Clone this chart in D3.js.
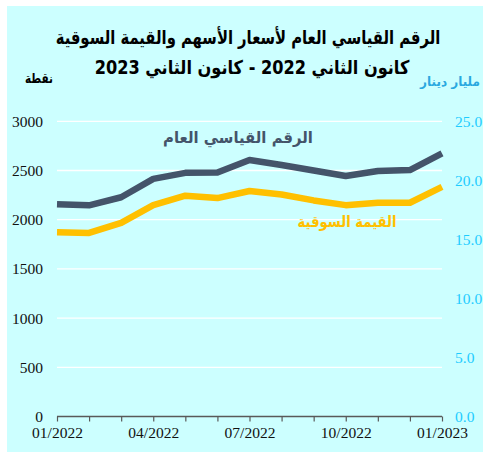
<!DOCTYPE html>
<html><head><meta charset="utf-8">
<script src="https://cdn.jsdelivr.net/npm/d3@7"></script>
<style>body{margin:0;background:#fff}svg{display:block}</style>
</head><body>
<svg id="c" width="483" height="456"></svg>
<script>
const months = ["01/2022","02/2022","03/2022","04/2022","05/2022","06/2022","07/2022","08/2022","09/2022","10/2022","11/2022","12/2022","01/2023"];
const tickLabels = ["01/2022","04/2022","07/2022","10/2022","01/2023"];
const indexValues = [2157,2146,2228,2415,2476,2480,2607,2556,2500,2444,2495,2505,2675];
const marketValues = [15.6,15.55,16.4,17.9,18.7,18.5,19.1,18.8,18.3,17.9,18.1,18.1,19.45];
const leftTicks = [0,500,1000,1500,2000,2500,3000];
const rightTicks = [0,5,10,15,20,25];
const titleLines = ["الرقم القياسي العام لأسعار الأسهم  والقيمة السوقية","كانون الثاني 2022 - كانون الثاني 2023"];

const svg = d3.select("#c");
svg.append("rect").attr("x",7).attr("y",6).attr("width",476).attr("height",446).attr("fill","#CCFFFF");

const x = d3.scalePoint().domain(months).range([57,442]);
const yL = d3.scaleLinear().domain([0,3000]).range([416.5,121.3]);
const yR = d3.scaleLinear().domain([0,25]).range([416.5,121.3]);

// gridlines
svg.append("g").selectAll("line").data(leftTicks.filter(d=>d>0)).join("line")
  .attr("x1",57).attr("x2",442).attr("y1",d=>yL(d)).attr("y2",d=>yL(d))
  .attr("stroke","#fff").attr("stroke-width",1.3);

// left axis
const gl = svg.append("g").attr("transform","translate(57,0)")
  .call(d3.axisLeft(yL).tickValues(leftTicks).tickSize(0).tickPadding(14).tickFormat(d3.format("d")));
gl.select(".domain").remove();
gl.selectAll("text").attr("font-family","Liberation Serif").attr("font-size",15.5).attr("fill","#111");

// right axis
const gr = svg.append("g").attr("transform","translate(442,0)")
  .call(d3.axisRight(yR).tickValues(rightTicks).tickSize(0).tickPadding(13).tickFormat(d3.format(".1f")));
gr.select(".domain").remove();
gr.selectAll("text").attr("font-family","Liberation Serif").attr("font-size",15.5).attr("fill","#1FCCFF");

// bottom axis
const gb = svg.append("g").attr("transform","translate(0,416.5)")
  .call(d3.axisBottom(x).tickSize(5).tickPadding(5).tickFormat(d=>tickLabels.includes(d)?d:""));
gb.select(".domain").attr("stroke","#595959").attr("stroke-width",1.5).attr("d","M57,0H442");
gb.selectAll(".tick line").attr("stroke","#595959").attr("stroke-width",1.2);
gb.selectAll("text").attr("font-family","Liberation Serif").attr("font-size",15.5).attr("fill","#111");

// lines
svg.append("path").datum(marketValues)
  .attr("d",d3.line().x((d,i)=>x(months[i])).y(d=>yR(d)))
  .attr("fill","none").attr("stroke","#FFC000").attr("stroke-width",6.5).attr("stroke-linejoin","round");
svg.append("path").datum(indexValues)
  .attr("d",d3.line().x((d,i)=>x(months[i])).y(d=>yL(d)))
  .attr("fill","none").attr("stroke","#44546A").attr("stroke-width",6.5).attr("stroke-linejoin","round");

// fitted Arabic text: natural width measured, then horizontally scaled to the target width
function fitText(txt, cx, y, size, width, color){
  const g = svg.append("g");
  const t = g.append("text").attr("x",0).attr("y",0).attr("text-anchor","middle")
    .attr("font-family","DejaVu Sans").attr("font-size",size).attr("font-weight","bold")
    .attr("fill",color).text(txt);
  const w = t.node().getComputedTextLength();
  g.attr("transform",`translate(${cx},${y}) scale(${width/w},1)`);
}

fitText("الرقم  القياسي  العام", 238, 143, 16, 150, "#44546A");
fitText("القيمة السوقية", 347, 227, 16, 99, "#FFC000");
fitText(titleLines[0], 248, 44, 19, 385, "#000");
fitText(titleLines[1], 252, 74, 19, 315, "#000");
fitText("نقطة", 39, 83, 13.5, 28, "#000");
fitText("مليار دينار", 450, 86, 13, 60, "#2AA8E0");
</script>
</body></html>
